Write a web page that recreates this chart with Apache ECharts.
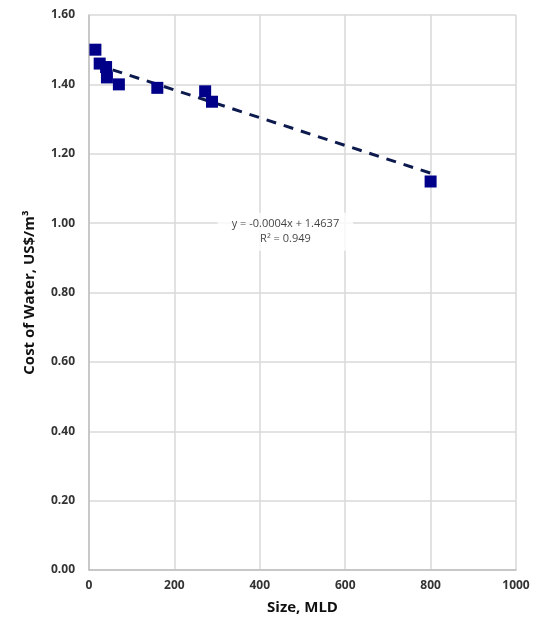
<!DOCTYPE html>
<html>
<head>
<meta charset="utf-8">
<script src="https://cdn.jsdelivr.net/npm/echarts@6/dist/echarts.min.js"></script>
<style>
  html, body { margin: 0; padding: 0; background: #fff; }
  #chart { width: 534px; height: 628px; }
</style>
</head>
<body>
<div id="chart"></div>
<script>
// plant size (MLD) and cost of water (US$/m3)
const sizes = [15, 25, 40, 42, 70, 160, 272, 288, 800]
const costs = [1.50, 1.46, 1.45, 1.42, 1.40, 1.39, 1.38, 1.35, 1.12]
// linear trendline ends
const trendX = [15, 800]
const trendY = [1.458, 1.144]
const xTicks = ['0', '200', '400', '600', '800', '1000']
const yTicks = ['0.00', '0.20', '0.40', '0.60', '0.80', '1.00', '1.20', '1.40', '1.60']
const eqLines = ['y = -0.0004x + 1.4637', 'R² = 0.949']
const eqPos = [460, 0.975]

const myChart = echarts.init(document.getElementById('chart'))
const font = 'Open Sans, Liberation Sans, sans-serif'

const option = {
  animation: false,
  grid: { left: 89, right: 18, top: 15, bottom: 58 },
  xAxis: {
    type: 'value',
    min: 0,
    max: 1000,
    interval: 200,
    name: 'Size, MLD',
    nameLocation: 'middle',
    nameGap: 30,
    nameTextStyle: { fontFamily: font, fontWeight: 'bold', fontSize: 15, color: '#111' },
    axisLine: { show: true, lineStyle: { color: '#bfbfbf', width: 1.5 } },
    axisTick: { show: false },
    axisLabel: {
      fontFamily: font, fontSize: 12, fontWeight: 'bold', color: '#333', margin: 10,
      formatter: (v) => xTicks[Math.round(v / 200)]
    },
    splitLine: { show: true, lineStyle: { color: '#d9d9d9', width: 1.5 } }
  },
  yAxis: {
    type: 'value',
    min: 0,
    max: 1.6,
    interval: 0.2,
    name: 'Cost of Water, US$/m³',
    nameLocation: 'middle',
    nameGap: 52,
    nameTextStyle: { fontFamily: font, fontWeight: 'bold', fontSize: 15, color: '#111' },
    axisLine: { show: true, lineStyle: { color: '#bfbfbf', width: 1.5 } },
    axisTick: { show: false },
    axisLabel: {
      fontFamily: font, fontSize: 12, fontWeight: 'bold', color: '#333', margin: 14,
      formatter: (v) => yTicks[Math.round(v / 0.2)]
    },
    splitLine: { show: true, lineStyle: { color: '#d9d9d9', width: 1.5 } }
  },
  series: [
    {
      type: 'line',
      data: trendX.map((x, i) => [x, trendY[i]]),
      symbol: 'none',
      lineStyle: { color: '#0d1a4d', width: 3, type: [10, 8] },
      z: 3
    },
    {
      type: 'scatter',
      data: sizes.map((x, i) => [x, costs[i]]),
      symbol: 'rect',
      symbolSize: 12,
      itemStyle: { color: '#000088', opacity: 1 },
      z: 4
    },
    {
      type: 'scatter',
      data: [eqPos],
      symbolSize: 0,
      silent: true,
      z: 5,
      label: {
        show: true,
        position: 'inside',
        formatter: eqLines.join('\n'),
        fontFamily: font,
        fontSize: 11,
        lineHeight: 15,
        color: '#111',
        align: 'center',
        backgroundColor: '#fff',
        padding: [4, 14]
      }
    }
  ]
}
myChart.setOption(option)
window.addEventListener('resize', () => {
  myChart.resize()
})
</script>
</body>
</html>
